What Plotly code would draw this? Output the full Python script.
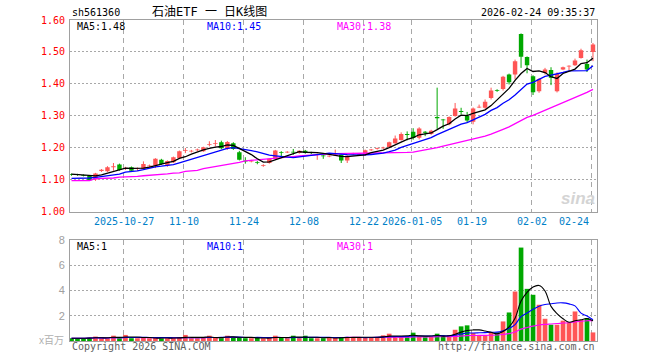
import pandas as pd
import plotly.graph_objects as go

# ---------------- data ----------------
holidays = ["2026-01-01", "2026-01-02", "2026-02-16", "2026-02-17", "2026-02-18",
            "2026-02-19", "2026-02-20", "2026-02-23"]
dates = [d.strftime("%Y-%m-%d") for d in pd.bdate_range("2025-10-14", "2026-02-24")
         if d.strftime("%Y-%m-%d") not in holidays]

open_ = [1.117, 1.116, 1.114, 1.112, 1.100, 1.127, 1.126, 1.139, 1.147, 1.134,
         1.139, 1.133, 1.133, 1.142, 1.144, 1.162, 1.144, 1.154, 1.168, 1.190,
         1.188, 1.192, 1.189, 1.209, 1.212, 1.217, 1.196, 1.214, 1.186, 1.159,
         1.157, 1.154, 1.143, 1.152, 1.165, 1.185, 1.185, 1.187, 1.183, 1.190,
         1.185, 1.178, 1.175, 1.172, 1.176, 1.178, 1.160, 1.179, 1.177, 1.177,
         1.192, 1.196, 1.198, 1.202, 1.214, 1.224, 1.242, 1.250, 1.231, 1.249,
         1.243, 1.296, 1.288, 1.273, 1.299, 1.314, 1.300, 1.281, 1.326, 1.325,
         1.356, 1.380, 1.384, 1.429, 1.429, 1.556, 1.484, 1.424, 1.377, 1.434,
         1.443, 1.377, 1.445, 1.454, 1.458, 1.481, 1.462, 1.500]
high = [1.119, 1.118, 1.116, 1.114, 1.121, 1.133, 1.142, 1.152, 1.150, 1.140,
        1.141, 1.138, 1.157, 1.147, 1.167, 1.165, 1.160, 1.172, 1.191, 1.199,
        1.193, 1.197, 1.203, 1.220, 1.224, 1.222, 1.221, 1.217, 1.190, 1.170,
        1.162, 1.158, 1.148, 1.167, 1.193, 1.189, 1.189, 1.196, 1.192, 1.193,
        1.187, 1.182, 1.183, 1.176, 1.194, 1.180, 1.177, 1.184, 1.181, 1.194,
        1.196, 1.200, 1.203, 1.219, 1.238, 1.248, 1.251, 1.261, 1.264, 1.252,
        1.256, 1.388, 1.290, 1.298, 1.340, 1.325, 1.312, 1.326, 1.335, 1.351,
        1.388, 1.383, 1.425, 1.432, 1.476, 1.558, 1.486, 1.427, 1.418, 1.450,
        1.452, 1.436, 1.454, 1.458, 1.479, 1.510, 1.476, 1.528]
low = [1.112, 1.112, 1.110, 1.096, 1.096, 1.124, 1.124, 1.128, 1.128, 1.130,
       1.126, 1.127, 1.131, 1.139, 1.136, 1.146, 1.140, 1.152, 1.166, 1.183,
       1.185, 1.189, 1.187, 1.204, 1.204, 1.195, 1.193, 1.193, 1.160, 1.150,
       1.154, 1.148, 1.140, 1.150, 1.163, 1.171, 1.183, 1.178, 1.181, 1.181,
       1.180, 1.162, 1.165, 1.170, 1.174, 1.152, 1.152, 1.177, 1.176, 1.175,
       1.190, 1.194, 1.196, 1.200, 1.212, 1.222, 1.223, 1.225, 1.226, 1.236,
       1.240, 1.259, 1.259, 1.270, 1.297, 1.304, 1.278, 1.273, 1.324, 1.322,
       1.351, 1.375, 1.379, 1.398, 1.414, 1.450, 1.433, 1.365, 1.372, 1.429,
       1.396, 1.373, 1.443, 1.442, 1.456, 1.479, 1.437, 1.471]
close = [1.115, 1.114, 1.112, 1.098, 1.119, 1.131, 1.139, 1.142, 1.130, 1.137,
         1.128, 1.136, 1.149, 1.144, 1.165, 1.149, 1.158, 1.170, 1.189, 1.192,
         1.190, 1.194, 1.201, 1.211, 1.214, 1.198, 1.218, 1.196, 1.162, 1.157,
         1.159, 1.152, 1.145, 1.165, 1.191, 1.183, 1.187, 1.185, 1.190, 1.183,
         1.183, 1.180, 1.173, 1.174, 1.178, 1.160, 1.175, 1.181, 1.179, 1.192,
         1.194, 1.198, 1.200, 1.217, 1.229, 1.243, 1.240, 1.230, 1.260, 1.247,
         1.253, 1.292, 1.286, 1.296, 1.323, 1.312, 1.285, 1.323, 1.328, 1.344,
         1.379, 1.378, 1.422, 1.405, 1.471, 1.485, 1.458, 1.374, 1.415, 1.445,
         1.419, 1.431, 1.452, 1.456, 1.473, 1.505, 1.445, 1.523]
# volume, millions of shares
volume = [0.22, 0.22, 0.22, 0.25, 0.35, 0.22, 0.22, 0.42, 0.22, 0.48,
          0.22, 0.22, 0.25, 0.22, 0.25, 0.22, 0.22, 0.25, 0.28, 0.48,
          0.22, 0.22, 0.25, 0.42, 0.25, 0.25, 0.42, 0.28, 0.28, 0.22,
          0.22, 0.25, 0.22, 0.25, 0.42, 0.25, 0.22, 0.42, 0.22, 0.42,
          0.22, 0.22, 0.22, 0.30, 0.25, 0.30, 0.30, 0.30, 0.30, 0.30,
          0.30, 0.30, 0.45, 0.58, 0.37, 0.30, 0.37, 0.66, 0.32, 0.30,
          0.32, 0.58, 0.42, 0.47, 0.89, 1.16, 1.24, 0.63, 0.47, 0.47,
          0.63, 0.68, 1.55, 2.26, 3.92, 7.40, 4.13, 3.66, 2.87, 1.76,
          1.29, 1.29, 1.61, 1.47, 2.34, 1.68, 1.82, 0.68]

ma5_head = [1.117, 1.116, 1.115, 1.113]
ma10_head = [1.104, 1.104, 1.104, 1.105, 1.107, 1.110, 1.112, 1.114, 1.117]
ma30_head = [1.097, 1.097, 1.097, 1.097, 1.103, 1.103, 1.103, 1.105, 1.108, 1.108,
             1.108, 1.110, 1.112, 1.113, 1.116, 1.116, 1.118, 1.120, 1.121, 1.126,
             1.127, 1.129, 1.134, 1.137, 1.140, 1.143, 1.147, 1.150, 1.154]

tick_dates = ["2025-10-27", "2025-11-10", "2025-11-24", "2025-12-08", "2025-12-22",
              "2026-01-05", "2026-01-19", "2026-02-02", "2026-02-24"]
tick_labels = ["2025-10-27", "11-10", "11-24", "12-08", "12-22",
               "2026-01-05", "01-19", "02-02", "02-24"]
price_ticks = [1.00, 1.10, 1.20, 1.30, 1.40, 1.50, 1.60]
vol_ticks = [2, 4, 6, 8]

title_text = "石油ETF 一 日K线图"
code_text = "sh561360"
time_text = "2026-02-24 09:35:37"
ma_price_labels = ["MA5:1.48", "MA10:1.45", "MA30:1.38"]
ma_vol_labels = ["MA5:1", "MA10:1", "MA30:1"]

# ---------------- derived ----------------
xs = list(range(len(dates)))
cs = pd.Series(close)
ma5 = ma5_head + cs.rolling(5).mean().iloc[4:].tolist()
ma10 = ma10_head + cs.rolling(10).mean().iloc[9:].tolist()
ma30 = ma30_head + cs.rolling(30).mean().iloc[29:].tolist()
vs = pd.Series(volume)
vma5 = vs.rolling(5, min_periods=1).mean().tolist()
vma10 = vs.rolling(10, min_periods=1).mean().tolist()
vma30 = vs.rolling(30, min_periods=1).mean().tolist()

RED = "#ff5555"
GREEN = "#00a800"
up = [c >= o for o, c in zip(open_, close)]
colors = [RED if u else GREEN for u in up]
body_base = [min(o, c) for o, c in zip(open_, close)]
body_len = [max(abs(c - o), 0.0025) for o, c in zip(open_, close)]
grid_x = [dates.index(d) - 0.25 for d in tick_dates]

MONO = "DejaVu Sans Mono, Noto Sans CJK SC, monospace"
GRAY = "#a8a8a8"

# pixel layout helpers
W, H = 660, 360
L, R, T, B = 70, 597.5, 20, 341


def px(x):
    return (x - L) / (R - L)


def py(y):
    return (B - y) / (B - T)


fig = go.Figure()
# wicks
for flag, col in [(True, RED), (False, GREEN)]:
    wx, wy = [], []
    for i in xs:
        if up[i] == flag:
            wx += [i, i, None]
            wy += [low[i], high[i], None]
    fig.add_trace(go.Scatter(x=wx, y=wy, mode="lines", line=dict(color=col, width=1),
                             xaxis="x", yaxis="y", hoverinfo="skip"))
# bodies
fig.add_trace(go.Bar(x=xs, y=body_len, base=body_base, width=0.74,
                     marker=dict(color=colors, line=dict(width=0)),
                     xaxis="x", yaxis="y", hoverinfo="skip"))
for vals, col in [(ma30, "#ff00ff"), (ma10, "#0000ff"), (ma5, "#000000")]:
    fig.add_trace(go.Scatter(x=xs, y=vals, mode="lines", line=dict(color=col, width=1.3),
                             xaxis="x", yaxis="y", hoverinfo="skip"))

fig.add_trace(go.Bar(x=xs, y=volume, marker=dict(color=colors, line=dict(width=0)),
                     width=0.78, xaxis="x2", yaxis="y2", hoverinfo="skip"))
for vals, col in [(vma30, "#ff00ff"), (vma10, "#0000ff"), (vma5, "#000000")]:
    fig.add_trace(go.Scatter(x=xs, y=vals, mode="lines",
                             line=dict(color=col, width=1.1, shape="spline"),
                             xaxis="x2", yaxis="y2", hoverinfo="skip"))

xcommon = dict(range=[-0.25, 87.67], tickvals=grid_x, showticklabels=False, ticks="",
               showgrid=True, gridcolor=GRAY, griddash="5px,4px", gridwidth=1,
               showline=True, mirror=True, linecolor="#a0a0a0", linewidth=1,
               zeroline=False, fixedrange=True, automargin=False)
fig.update_layout(
    width=W, height=H,
    margin=dict(l=L, r=W - R, t=T, b=H - B, pad=0, autoexpand=False),
    paper_bgcolor="white", plot_bgcolor="white",
    showlegend=False, barmode="overlay",
    xaxis=dict(domain=[0, 1], anchor="y", **xcommon),
    xaxis2=dict(domain=[0, 1], anchor="y2", matches="x", **xcommon),
    yaxis=dict(domain=[py(211.5), 1], range=[1.0, 1.6], tickvals=price_ticks,
               tickformat=".2f", tickfont=dict(family=MONO, size=10, color="#ff0000"),
               showgrid=True, gridcolor=GRAY, griddash="2px,2px", gridwidth=1,
               showline=True, mirror=True, linecolor="#a0a0a0", linewidth=1,
               zeroline=False, ticks="", ticklabelstandoff=2, automargin=False,
               fixedrange=True),
    yaxis2=dict(domain=[0, py(240)], range=[0, 8], tickvals=vol_ticks,
                tickfont=dict(family="Liberation Sans, Arial", size=11, color="#a0a0a0"),
                showgrid=True, gridcolor=GRAY, griddash="2px,2px", gridwidth=1,
                showline=True, mirror=True, linecolor="#a0a0a0", linewidth=1,
                zeroline=False, ticks="", ticklabelstandoff=2, automargin=False,
                fixedrange=True),
)

ann = []


def text(t, x, y, size=10, color="#000000", xa="left", family=MONO, **kw):
    ann.append(dict(text=t, x=px(x), y=py(y), xref="paper", yref="paper",
                    xanchor=xa, yanchor="middle", showarrow=False,
                    font=dict(family=family, size=size, color=color), **kw))


text(code_text, 70, 12.5)
text(title_text, 210, 12, size=12, xa="center")
text(time_text, 598, 12.5, xa="right")
for lab, xx, col in zip(ma_price_labels, [75, 205, 335], ["#000000", "#0000ff", "#ff00ff"]):
    text(lab, xx, 26, color=col)
for lab, xx, col in zip(ma_vol_labels, [75, 205, 335], ["#000000", "#0000ff", "#ff00ff"]):
    text(lab, xx, 246, color=col)
for i, (d, lab) in enumerate(zip(tick_dates, tick_labels)):
    last = i == len(tick_dates) - 1
    ann.append(dict(text=lab, x=dates.index(d) - 0.25 - (0.1 if last else 0), xref="x",
                    y=py(221.5), yref="paper", xanchor="right" if last else "center",
                    yanchor="middle", showarrow=False,
                    font=dict(family=MONO, size=10, color="#0080c8")))
text("x百万", 66, 340, size=10, color="#b0b0b0", xa="right",
     family="Liberation Sans, Noto Sans CJK SC")
text("Copyright 2026 SINA.COM", 70, 346.5, color="#606060")
text("http://finance.sina.com.cn", 598, 346.5, color="#606060", xa="right")
text("<b><i>sina</i></b>", 597, 199, size=17, color="#d4d4d4", xa="right",
     family="Liberation Sans, Arial")
fig.update_layout(annotations=ann)

fig.write_html("out.html", config={"displayModeBar": False, "staticPlot": True},
               post_script="document.body.style.margin='0';document.body.style.padding='0';")
